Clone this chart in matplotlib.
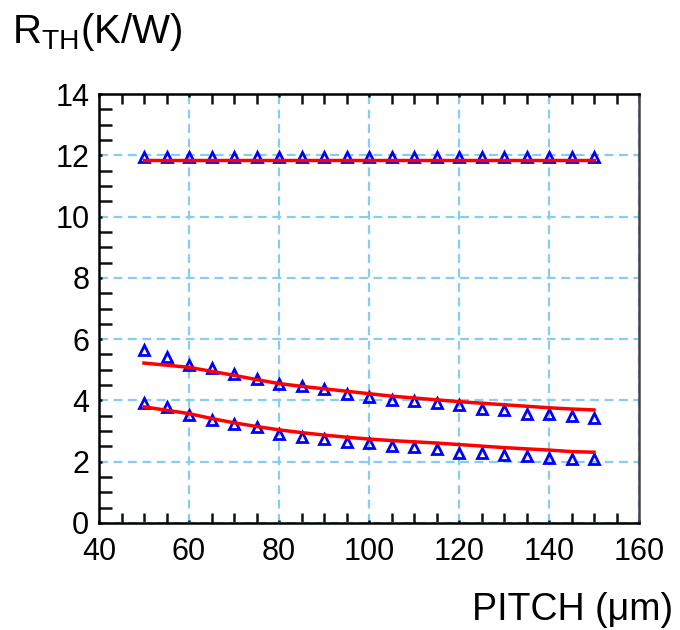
import numpy as np
import matplotlib
matplotlib.use("Agg")
import matplotlib.pyplot as plt
from matplotlib.ticker import MultipleLocator

plt.rcParams['font.family'] = ['Liberation Sans', 'DejaVu Sans']
plt.rcParams['mathtext.fontset'] = 'custom'
plt.rcParams['mathtext.rm'] = 'Liberation Sans'

# pitch sweep (um)
pitch = [50, 55, 60, 65, 70, 75, 80, 85, 90, 95, 100,
         105, 110, 115, 120, 125, 130, 135, 140, 145, 150]

# simulated thermal resistance (K/W)
rth_top = [11.93] * 21
rth_mid = [5.63, 5.41, 5.16, 5.05, 4.87, 4.71, 4.55, 4.46, 4.36, 4.20, 4.11,
           4.00, 3.97, 3.90, 3.84, 3.73, 3.68, 3.57, 3.55, 3.48, 3.43]
rth_low = [3.92, 3.77, 3.52, 3.35, 3.22, 3.12, 2.92, 2.81, 2.73, 2.65, 2.60,
           2.51, 2.47, 2.43, 2.30, 2.27, 2.22, 2.18, 2.11, 2.08, 2.08]

# model curves
fit_top = [11.86] * 21
fit_mid = [5.22, 5.15, 5.08, 4.95, 4.82, 4.68, 4.55, 4.46, 4.38, 4.30, 4.22,
           4.14, 4.08, 4.02, 3.96, 3.91, 3.86, 3.81, 3.76, 3.72, 3.69]
fit_low = [3.79, 3.68, 3.57, 3.41, 3.27, 3.15, 3.04, 2.95, 2.87, 2.80, 2.74,
           2.69, 2.65, 2.61, 2.56, 2.51, 2.46, 2.42, 2.38, 2.33, 2.31]

fig = plt.figure(figsize=(6.8, 6.3), dpi=100)
ax = fig.add_axes([99 / 680, 1 - 523 / 630, 540 / 680, 429 / 630])

for meas, fit in [(rth_top, fit_top), (rth_mid, fit_mid), (rth_low, fit_low)]:
    ax.plot(pitch, meas, linestyle='none', marker='^', markersize=7.5,
            markerfacecolor='none', markeredgecolor='#0000ff',
            markeredgewidth=2.0, zorder=3)
    ax.plot(pitch, fit, color='#ff0000', linewidth=2.5, zorder=4)

ax.set_xlim(40, 160)
ax.set_ylim(0, 14)
ax.xaxis.set_major_locator(MultipleLocator(20))
ax.xaxis.set_minor_locator(MultipleLocator(5))
ax.yaxis.set_major_locator(MultipleLocator(2))
ax.yaxis.set_minor_locator(MultipleLocator(0.5))

ax.grid(True, which='major', color='#85cdf5', linewidth=1.6,
        linestyle=(0, (4, 2.5)), zorder=1)
ax.set_axisbelow(True)

for side in ['left', 'bottom', 'top', 'right']:
    ax.spines[side].set_linewidth(1.8)
ax.spines['right'].set_color('#444444')

ax.tick_params(which='both', direction='in', top=True, right=False,
               width=1.8, color='#111111')
ax.tick_params(which='major', length=2)
ax.tick_params(axis='x', which='minor', length=7)
ax.tick_params(axis='y', which='minor', length=9)
ax.tick_params(axis='x', which='major', labelsize=22, pad=10)
ax.tick_params(axis='y', which='major', labelsize=22, pad=7)

fig.text(12 / 680, 1 - 43 / 630, r'R$_{\rm TH}$(K/W)', fontsize=29,
         ha='left', va='baseline')
fig.text(673 / 680, 1 - 620 / 630, 'PITCH (\u03bcm)', fontsize=27,
         ha='right', va='baseline')

fig.savefig('out.png', dpi=100)
